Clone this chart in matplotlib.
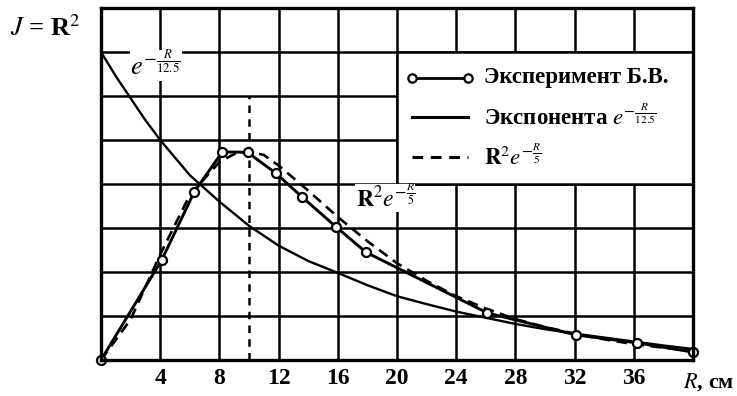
import matplotlib
matplotlib.use("Agg")
import matplotlib.pyplot as plt
from matplotlib.patches import Rectangle

plt.rcParams['font.family'] = ['Liberation Serif', 'DejaVu Serif']
plt.rcParams['mathtext.fontset'] = 'stix'

# ---- data (grid units on y) ----
exp_R = [0, 4.1, 6.3, 8.2, 9.9, 11.8, 13.6, 15.9, 17.9, 26.1, 32.1, 36.2, 40]
exp_J = [0, 2.27, 3.82, 4.73, 4.72, 4.25, 3.70, 3.02, 2.45, 1.07, 0.57, 0.39, 0.18]

expo_R = [0, 1, 2, 3, 4, 6, 8, 10, 12, 14, 16, 18, 20, 22, 24, 26, 28, 30,
          32, 34, 36, 38, 40]
expo_J = [7.0, 6.45, 5.95, 5.45, 5.0, 4.2, 3.6, 3.05, 2.6, 2.25, 1.98, 1.70,
          1.45, 1.27, 1.10, 0.96, 0.82, 0.70, 0.60, 0.51, 0.42, 0.33, 0.25]

r2e_R = [0, 2, 4, 6, 8, 9, 10, 11, 12, 14, 16, 18, 20, 22, 24, 26, 28, 30,
         32, 34, 36, 38, 40]
r2e_J = [0, 0.92, 2.40, 3.75, 4.50, 4.68, 4.74, 4.66, 4.42, 3.85, 3.25, 2.70,
         2.20, 1.80, 1.45, 1.17, 0.93, 0.75, 0.60, 0.47, 0.36, 0.28, 0.21]

peak_R = 10
peak_top = 6

x_ticks = [0, 4, 8, 12, 16, 20, 24, 28, 32, 36, 40]
x_tick_labels = ['', '4', '8', '12', '16', '20', '24', '28', '32', '36', '']
y_ticks = [0, 1, 2, 3, 4, 5, 6, 7, 8]

legend_labels = ['Эксперимент Б.В.',
                 r'Экспонента $e^{-\frac{R}{12.5}}$',
                 r'$\mathbf{R}^2 e^{-\frac{R}{5}}$']

fig = plt.figure(figsize=(7.37, 3.96), dpi=100)
ax = fig.add_axes([101/737, 36/396, 592/737, 352/396])

ax.set_xlim(0, 40)
ax.set_ylim(0, 8)
ax.set_xticks(x_ticks)
ax.set_xticklabels(x_tick_labels, fontsize=17, fontweight='bold')
ax.set_yticks(y_ticks)
ax.set_yticklabels([])
ax.tick_params(length=0, pad=6)
ax.set_axisbelow(True)
ax.grid(True, color='black', lw=1.8)
for s in ax.spines.values():
    s.set_linewidth(2.4)
    s.set_zorder(6)

# curves
ax.plot(expo_R, expo_J, color='black', lw=1.7, zorder=3)
ax.plot(r2e_R, r2e_J, color='black', lw=1.9, ls=(0, (4, 2.5)), zorder=3)
ax.plot(exp_R, exp_J, color='black', lw=2.1, marker='o', ms=6.5,
        mfc='white', mec='black', mew=1.6, zorder=4, clip_on=False)
ax.plot([peak_R, peak_R], [0, peak_top], color='black', lw=1.8,
        ls=(0, (3, 2.5)), zorder=3)

# legend box (covers grid cells R 20..40, y 4..7)
ax.add_patch(Rectangle((20, 4), 20, 3, facecolor='white', edgecolor='black',
                       lw=1.8, zorder=2.5))
rows = [6.42, 5.52, 4.62]
hx0, hx1, tx = 21.0, 24.8, 25.9
ax.plot([hx0, hx1], [rows[0], rows[0]], color='black', lw=2.0, marker='o',
        ms=6, mfc='white', mec='black', mew=1.6, zorder=4)
ax.plot([hx0, hx1], [rows[1], rows[1]], color='black', lw=2.2, zorder=4)
ax.plot([hx0, hx1], [rows[2], rows[2]], color='black', lw=2.2,
        ls=(0, (3.5, 2.5)), zorder=4)
for y, lab in zip(rows, legend_labels):
    ax.text(tx, y, lab, fontsize=16.5, fontweight='bold', va='center',
            ha='left', zorder=5)

# curve annotations (white background interrupts grid lines)
ax.text(3.7, 6.7, r'$e^{-\frac{R}{12.5}}$', fontsize=19, ha='center',
        va='center', zorder=5,
        bbox=dict(facecolor='white', edgecolor='none', pad=0.5))
ax.text(19.2, 3.68, r'$\mathbf{R}^2 e^{-\frac{R}{5}}$', fontsize=17,
        ha='center', va='center', zorder=5,
        bbox=dict(facecolor='white', edgecolor='none', pad=0.5))

# axis labels
fig.text(10/737, 1 - 28/396, r'$J$ = R$^2$', fontsize=19, fontweight='bold',
         ha='left', va='center')
fig.text(683/737, 1 - 382/396, r'$R$, см', fontsize=16, fontweight='bold',
         ha='left', va='center')

fig.savefig('out.png', dpi=100)
